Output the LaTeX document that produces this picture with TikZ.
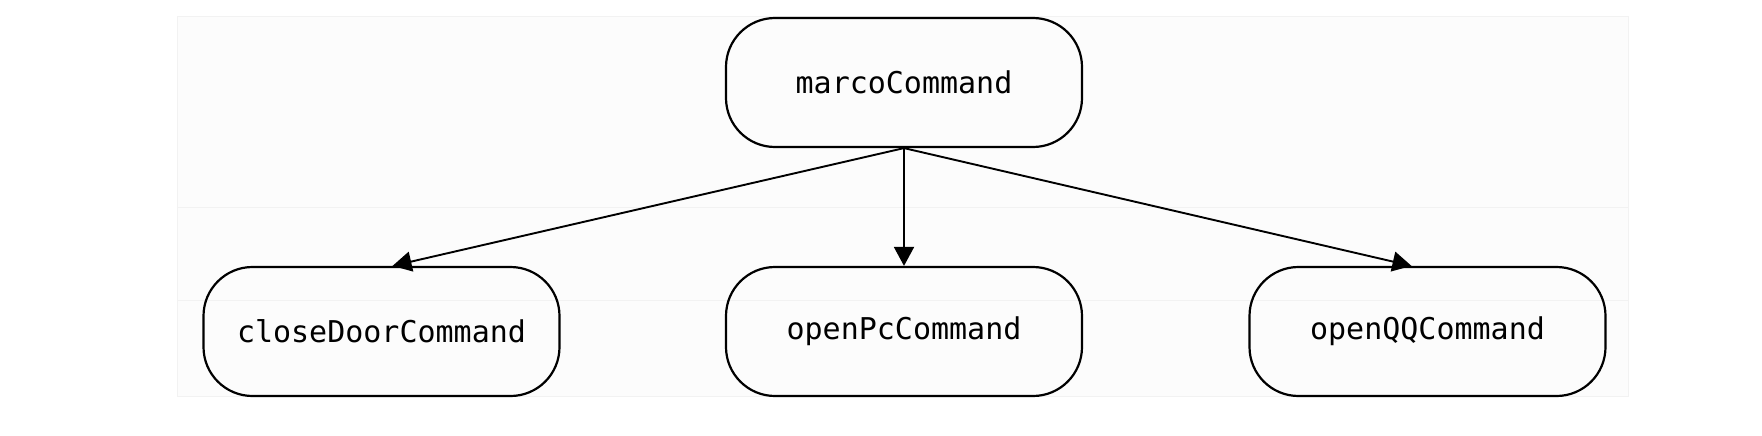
\documentclass[tikz,border=0pt]{standalone}
\usepackage{fontspec}
\setmonofont{DejaVu Sans Mono}
\usetikzlibrary{arrows.meta}
\begin{document}
\begin{tikzpicture}[x=1pt,y=-1pt,
  cmdbox/.style={draw=black, line width=2.2pt, rounded corners=49pt,
    minimum width=356pt, minimum height=129pt, inner sep=0pt,
    font=\ttfamily\fontsize{30}{34}\selectfont},
  conn/.style={draw=black, line width=1.9pt, -{Triangle[length=19pt,width=20pt]}},
  faint/.style={draw=black!5, line width=1pt}]
\useasboundingbox (0,0) rectangle (1762,436);
\fill[black!1.2] (177,17) rectangle (1628,396);
\draw[faint] (177,17) rectangle (1628,396);
\draw[faint] (177,207) -- (1628,207);
\draw[faint] (177,300) -- (1628,300);
\node[cmdbox] (top) at (904,82.5) {marcoCommand};
\node[cmdbox] (l) at (381.5,331.5) {closeDoorCommand};
\node[cmdbox] (m) at (904,331.5) {openPcCommand};
\node[cmdbox] (r) at (1427.5,331.5) {openQQCommand};
\draw[conn] (top.south) -- ([xshift=11pt]l.north);
\draw[conn] (top.south) -- (m.north);
\draw[conn] (top.south) -- ([xshift=-16pt]r.north);
\end{tikzpicture}
\end{document}
